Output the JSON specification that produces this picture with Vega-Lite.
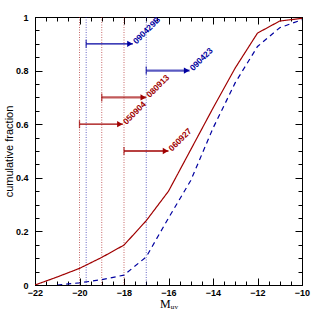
{
  "$schema": "https://vega.github.io/schema/vega-lite/v6.json",
  "width": 267,
  "height": 268,
  "autosize": {"type": "none"},
  "padding": {"left": 35, "top": 17, "right": 17, "bottom": 34},
  "background": "white",
  "config": {
    "view": {"stroke": "black", "strokeWidth": 1},
    "axis": {
      "domainColor": "black",
      "tickColor": "black",
      "labelColor": "black",
      "titleColor": "black",
      "grid": false,
      "labelFont": "Liberation Sans",
      "titleFont": "Liberation Sans",
      "labelFontWeight": "bold",
      "labelFontSize": 9
    }
  },
  "datasets": {
    "curves": [
      {"M": -22, "frac": 0.0, "sample": "red"},
      {"M": -21, "frac": 0.03, "sample": "red"},
      {"M": -20, "frac": 0.062, "sample": "red"},
      {"M": -19, "frac": 0.103, "sample": "red"},
      {"M": -18, "frac": 0.149, "sample": "red"},
      {"M": -17, "frac": 0.24, "sample": "red"},
      {"M": -16, "frac": 0.35, "sample": "red"},
      {"M": -15, "frac": 0.505, "sample": "red"},
      {"M": -14, "frac": 0.66, "sample": "red"},
      {"M": -13, "frac": 0.81, "sample": "red"},
      {"M": -12, "frac": 0.94, "sample": "red"},
      {"M": -11, "frac": 0.985, "sample": "red"},
      {"M": -10, "frac": 0.995, "sample": "red"},
      {"M": -21, "frac": 0.0, "sample": "blue"},
      {"M": -20, "frac": 0.008, "sample": "blue"},
      {"M": -19, "frac": 0.02, "sample": "blue"},
      {"M": -18, "frac": 0.037, "sample": "blue"},
      {"M": -17, "frac": 0.105, "sample": "blue"},
      {"M": -16, "frac": 0.25, "sample": "blue"},
      {"M": -15, "frac": 0.39, "sample": "blue"},
      {"M": -14, "frac": 0.585, "sample": "blue"},
      {"M": -13, "frac": 0.755, "sample": "blue"},
      {"M": -12, "frac": 0.89, "sample": "blue"},
      {"M": -11, "frac": 0.96, "sample": "blue"},
      {"M": -10, "frac": 0.99, "sample": "blue"}
    ],
    "grbs": [
      {"grb": "090429B", "sample": "blue", "kind": "thin", "M": -19.7, "M2": -17.6, "frac": 0.9},
      {"grb": "090423", "sample": "blue", "kind": "thick", "M": -17.0, "M2": -15.05, "frac": 0.8},
      {"grb": "080913", "sample": "red", "kind": "thick", "M": -19.0, "M2": -17.0, "frac": 0.7},
      {"grb": "050904", "sample": "red", "kind": "thin", "M": -20.0, "M2": -18.05, "frac": 0.6},
      {"grb": "060927", "sample": "red", "kind": "thin", "M": -18.0, "M2": -16.0, "frac": 0.5}
    ]
  },
  "resolve": {"axis": {"x": "independent", "y": "independent"}},
  "layer": [
    {
      "data": {"name": "grbs"},
      "mark": {"type": "rule", "strokeWidth": 1, "strokeDash": [1, 1.5], "opacity": 0.6},
      "encoding": {
        "x": {
          "field": "M", "type": "quantitative",
          "scale": {"domain": [-22, -10], "nice": false, "zero": false},
          "axis": {
            "orient": "bottom",
            "title": "Mᵤᵥ",
            "titleFont": "Liberation Serif",
            "titleFontWeight": "normal",
            "titleFontSize": 12,
            "titlePadding": 1,
            "values": [-22,-21.5,-21,-20.5,-20,-19.5,-19,-18.5,-18,-17.5,-17,-16.5,-16,-15.5,-15,-14.5,-14,-13.5,-13,-12.5,-12,-11.5,-11,-10.5,-10],
            "labelExpr": "datum.value % 2 === 0 ? format(datum.value, '~g') : ''",
            "tickSize": {"condition": {"test": "datum.value % 2 === 0", "value": -7}, "value": -4},
            "labelPadding": 10,
            "labelFlush": false
          }
        },
        "color": {
          "field": "sample", "type": "nominal",
          "scale": {"domain": ["red", "blue"], "range": ["#a00000", "#0000a0"]},
          "legend": null
        }
      }
    },
    {
      "data": {"name": "curves"},
      "mark": {"type": "line", "strokeWidth": 1.2, "clip": true},
      "encoding": {
        "x": {"field": "M", "type": "quantitative", "axis": null},
        "y": {
          "field": "frac", "type": "quantitative",
          "scale": {"domain": [0, 1], "nice": false},
          "axis": {
            "orient": "left",
            "title": "cumulative fraction",
            "titleFontWeight": "normal",
            "titleFontSize": 11,
            "titlePadding": 1,
            "values": [0,0.05,0.1,0.15,0.2,0.25,0.3,0.35,0.4,0.45,0.5,0.55,0.6,0.65,0.7,0.75,0.8,0.85,0.9,0.95,1],
            "labelExpr": "abs(datum.value*5 - round(datum.value*5)) < 0.001 ? format(datum.value, '~g') : ''",
            "tickSize": {"condition": {"test": "abs(datum.value*5 - round(datum.value*5)) < 0.001", "value": -7}, "value": -4},
            "labelPadding": 14,
            "labelFlush": false
          }
        },
        "color": {"field": "sample", "type": "nominal", "legend": null},
        "strokeDash": {
          "field": "sample", "type": "nominal",
          "scale": {"domain": ["red", "blue"], "range": [[1, 0], [5, 4]]},
          "legend": null
        }
      }
    },
    {
      "data": {"name": "grbs"},
      "mark": {"type": "rule"},
      "encoding": {
        "x": {
          "field": "M", "type": "quantitative",
          "axis": {
            "orient": "top", "title": null, "labels": false, "domain": true,
            "values": [-22,-21.5,-21,-20.5,-20,-19.5,-19,-18.5,-18,-17.5,-17,-16.5,-16,-15.5,-15,-14.5,-14,-13.5,-13,-12.5,-12,-11.5,-11,-10.5,-10],
            "tickSize": {"condition": {"test": "datum.value % 2 === 0", "value": -7}, "value": -4}
          }
        },
        "x2": {"field": "M2"},
        "y": {
          "field": "frac", "type": "quantitative",
          "axis": {
            "orient": "right", "title": null, "labels": false, "domain": true,
            "values": [0,0.05,0.1,0.15,0.2,0.25,0.3,0.35,0.4,0.45,0.5,0.55,0.6,0.65,0.7,0.75,0.8,0.85,0.9,0.95,1],
            "tickSize": {"condition": {"test": "abs(datum.value*5 - round(datum.value*5)) < 0.001", "value": -7}, "value": -4}
          }
        },
        "color": {"field": "sample", "type": "nominal", "legend": null},
        "strokeWidth": {
          "field": "kind", "type": "nominal",
          "scale": {"domain": ["thin", "thick"], "range": [1.3, 2.3]},
          "legend": null
        },
        "opacity": {
          "field": "kind", "type": "nominal",
          "scale": {"domain": ["thin", "thick"], "range": [1, 0.65]},
          "legend": null
        }
      }
    },
    {
      "data": {"name": "grbs"},
      "mark": {"type": "tick", "orient": "vertical", "size": 8, "thickness": 1.3},
      "encoding": {
        "x": {"field": "M", "type": "quantitative", "axis": null},
        "y": {"field": "frac", "type": "quantitative", "axis": null},
        "color": {"field": "sample", "type": "nominal", "legend": null}
      }
    },
    {
      "data": {"name": "grbs"},
      "mark": {"type": "point", "shape": "triangle-right", "filled": true, "size": 40, "xOffset": -3, "opacity": 1},
      "encoding": {
        "x": {"field": "M2", "type": "quantitative", "axis": null},
        "y": {"field": "frac", "type": "quantitative", "axis": null},
        "color": {"field": "sample", "type": "nominal", "legend": null}
      }
    },
    {
      "data": {"name": "grbs"},
      "mark": {"type": "text", "angle": -45, "align": "left", "baseline": "middle", "dx": 2, "font": "Liberation Sans", "fontWeight": "bold", "fontSize": 8.5},
      "encoding": {
        "x": {"field": "M2", "type": "quantitative", "axis": null},
        "y": {"field": "frac", "type": "quantitative", "axis": null},
        "text": {"field": "grb"},
        "color": {"field": "sample", "type": "nominal", "legend": null}
      }
    }
  ]
}
